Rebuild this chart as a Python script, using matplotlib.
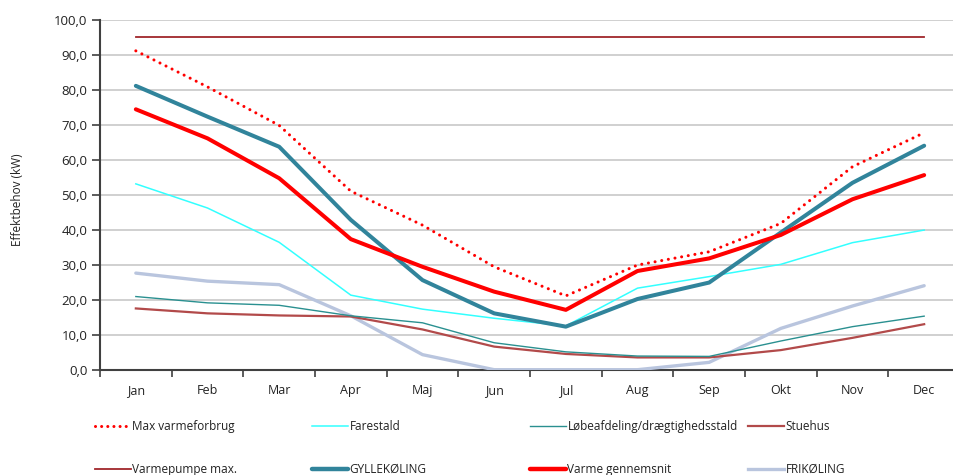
import matplotlib
matplotlib.use("Agg")
import matplotlib.pyplot as plt
from matplotlib.lines import Line2D
from matplotlib.ticker import FuncFormatter, MultipleLocator
import numpy as np

plt.rcParams['font.family'] = ['Open Sans', 'DejaVu Sans']

months = ["Jan", "Feb", "Mar", "Apr", "Maj", "Jun", "Jul", "Aug", "Sep", "Okt", "Nov", "Dec"]
max_varmeforbrug = [91.1, 80.8, 69.8, 51.0, 41.3, 29.4, 21.1, 29.9, 33.7, 41.8, 58.0, 67.7]
farestald = [53.1, 46.2, 36.4, 21.3, 17.3, 14.7, 12.5, 23.3, 26.6, 30.1, 36.3, 39.9]
loebeafdeling = [20.9, 19.1, 18.4, 15.4, 13.4, 7.7, 5.1, 3.9, 3.8, 8.2, 12.3, 15.3]
stuehus = [17.5, 16.1, 15.5, 15.2, 11.5, 6.6, 4.5, 3.5, 3.5, 5.6, 9.1, 13.0]
varmepumpe_max = [95.0] * 12
gyllekoeling = [81.1, 72.3, 63.7, 42.8, 25.6, 16.1, 12.3, 20.2, 24.9, 39.2, 53.4, 64.0]
varme_gennemsnit = [74.4, 66.1, 54.7, 37.3, 29.4, 22.3, 17.1, 28.2, 31.8, 38.5, 48.7, 55.6]
frikoeling = [27.6, 25.3, 24.3, 15.4, 4.3, 0.0, 0.0, 0.0, 2.1, 11.8, 18.2, 24.0]

W, H = 954, 475
fig = plt.figure(figsize=(W / 100, H / 100), dpi=100)
ax = fig.add_axes([100 / W, (H - 369.7) / H, 860 / W, (369.7 - 19.7) / H])

x = np.arange(len(months))

c_max = "#FF0000"
c_fare = "#33FFFF"
c_loeb = "#2A9090"
c_stue = "#B24A4A"
c_vp = "#A0262B"
c_gylle = "#31849B"
c_varme = "#FF0000"
c_fri = "#B9C5DE"

ax.plot(x, varmepumpe_max, color=c_vp, lw=1.3, zorder=3)
ax.plot(x, frikoeling, color=c_fri, lw=2.4, zorder=3, solid_capstyle='round')
ax.plot(x, stuehus, color=c_stue, lw=1.6, zorder=3)
ax.plot(x, loebeafdeling, color=c_loeb, lw=1.0, zorder=3)
ax.plot(x, farestald, color=c_fare, lw=1.1, zorder=3)
ax.plot(x, gyllekoeling, color=c_gylle, lw=2.9, zorder=4, solid_capstyle='round')
ax.plot(x, varme_gennemsnit, color=c_varme, lw=2.9, zorder=5, solid_capstyle='round')
ax.plot(x, max_varmeforbrug, color=c_max, lw=2.2, linestyle=(0, (0.01, 2.2)),
        dash_capstyle='round', zorder=6)

ax.set_xlim(-0.5, 11.5)
ax.set_ylim(0, 100)
ax.yaxis.set_major_locator(MultipleLocator(10))
ax.yaxis.set_major_formatter(FuncFormatter(lambda v, p: f"{v:.1f}".replace(".", ",")))
ax.set_xticks(x)
ax.set_xticklabels(months)
ax.set_xticks(np.arange(-0.5, 12, 1), minor=True)
ax.tick_params(axis='x', which='major', length=0, pad=10, labelsize=9, colors='#222222')
ax.tick_params(axis='x', which='minor', length=5, width=1.2, color='#404040')
ax.tick_params(axis='y', which='major', length=6, width=1.2, color='#404040', pad=3,
               labelsize=9.5, labelcolor='#222222')
ax.grid(axis='y', color='#C8C8C8', lw=1.2, zorder=0)
ax.set_axisbelow(True)
for s in ['top', 'right']:
    ax.spines[s].set_visible(False)
for s in ['left', 'bottom']:
    ax.spines[s].set_color('#404040')
    ax.spines[s].set_linewidth(1.5)

fig.text(18 / W, (H - 200) / H, "Effektbehov (kW)", rotation=90, ha='center', va='center',
         fontsize=8.5, color='#222222')

# Legend: 4 columns of 2 entries each
entries = [
    [("Max varmeforbrug", dict(color=c_max, lw=2.2, linestyle=(0, (0.01, 2.0)), dash_capstyle='round')),
     ("Varmepumpe max.", dict(color=c_vp, lw=1.3))],
    [("Farestald", dict(color=c_fare, lw=1.1)),
     ("GYLLEKØLING", dict(color=c_gylle, lw=3.2, solid_capstyle='round'))],
    [("Løbeafdeling/drægtighedsstald", dict(color=c_loeb, lw=1.0)),
     ("Varme gennemsnit", dict(color=c_varme, lw=3.2, solid_capstyle='round'))],
    [("Stuehus", dict(color=c_stue, lw=1.6)),
     ("FRIKØLING", dict(color=c_fri, lw=2.4))],
]
col_x = [96, 313, 531, 749]
for cx, col in zip(col_x, entries):
    handles = [Line2D([0], [0], **kw) for _, kw in col]
    labels = [l for l, _ in col]
    leg = fig.legend(handles, labels, loc='upper left',
                     bbox_to_anchor=((cx - 6) / W, (H - 415) / H),
                     frameon=False, fontsize=8.5, handlelength=3.1, handletextpad=0.1,
                     labelspacing=2.55, borderaxespad=0, borderpad=0.4)
    for t in leg.get_texts():
        t.set_color('#222222')

fig.savefig("out.png", dpi=100)
